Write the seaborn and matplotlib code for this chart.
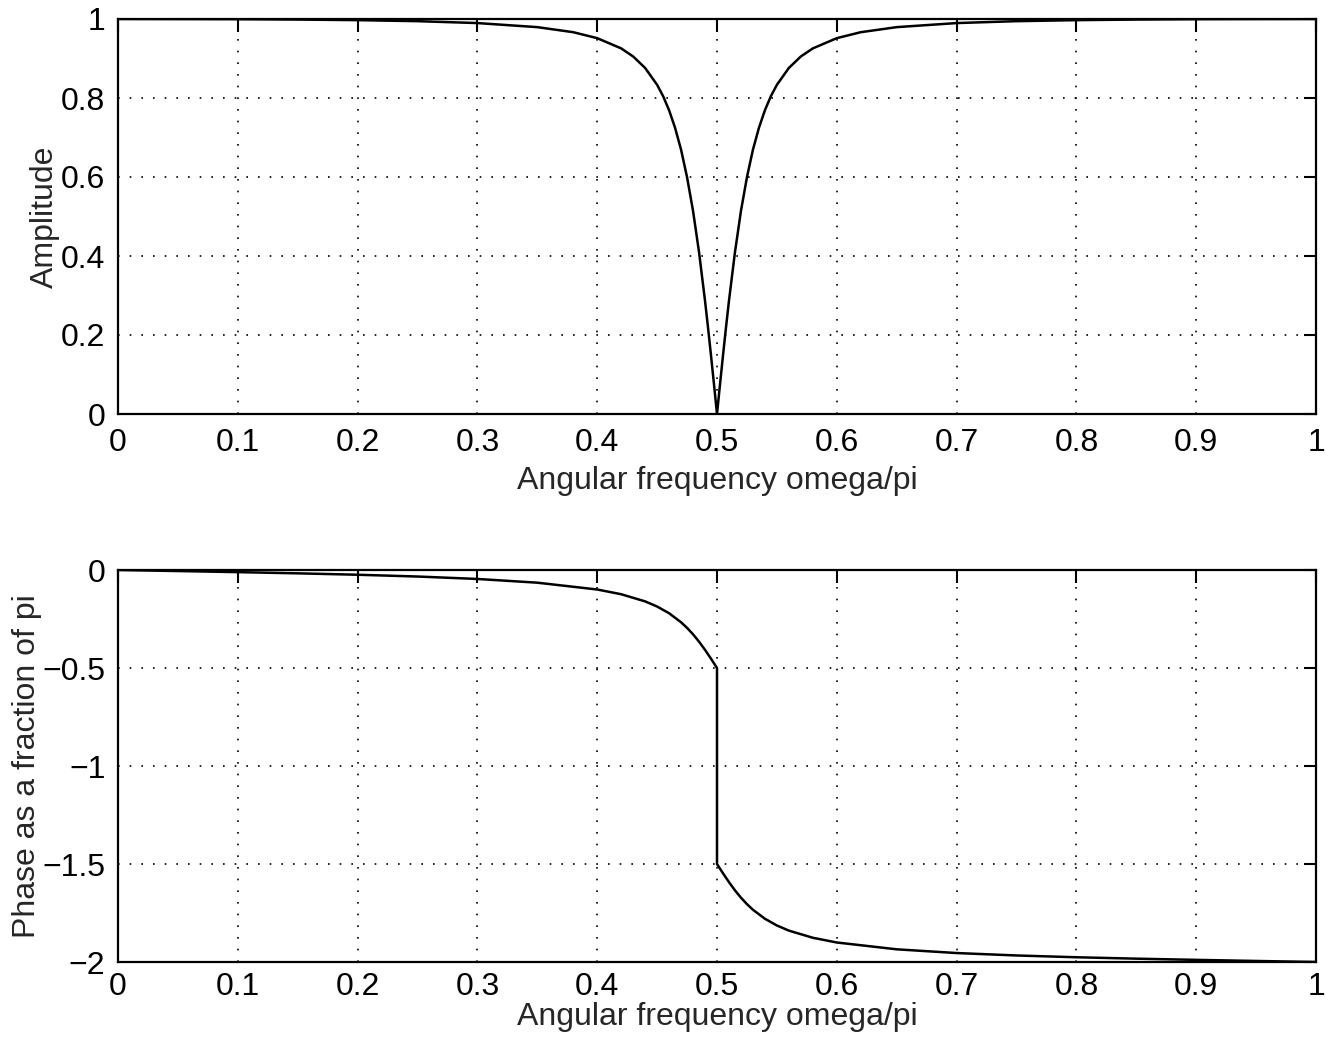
import matplotlib
matplotlib.use("Agg")
import matplotlib.pyplot as plt
import seaborn as sns
import pandas as pd
from matplotlib.ticker import FuncFormatter

# ---- data ----
amp_freq = [0.0, 0.05, 0.1, 0.15, 0.2, 0.25, 0.3, 0.35, 0.38, 0.4, 0.42, 0.43, 0.44,
            0.45, 0.455, 0.46, 0.465, 0.47, 0.475, 0.48, 0.485, 0.49, 0.4925, 0.495,
            0.4975, 0.5,
            0.5025, 0.505, 0.5075, 0.51, 0.515, 0.52, 0.525, 0.53, 0.535, 0.54, 0.545,
            0.55, 0.56, 0.57, 0.58, 0.6, 0.62, 0.65, 0.7, 0.75, 0.8, 0.85, 0.9, 0.95, 1.0]
amp_vals = [1.0, 0.9998, 0.9995, 0.9986, 0.9971, 0.9945, 0.9897, 0.9794, 0.9666, 0.9515,
            0.9256, 0.9051, 0.8761, 0.8334, 0.8048, 0.7690, 0.7245, 0.6692, 0.5995,
            0.5142, 0.4097, 0.2868, 0.219, 0.1480, 0.0747, 0.0,
            0.0747, 0.1480, 0.219, 0.2868, 0.4097, 0.5142, 0.5995, 0.6692, 0.7245,
            0.7690, 0.8048, 0.8334, 0.8761, 0.9051, 0.9256, 0.9515, 0.9666, 0.9794,
            0.9897, 0.9945, 0.9971, 0.9986, 0.9995, 0.9998, 1.0]

phase_freq = [0.0, 0.05, 0.1, 0.15, 0.2, 0.25, 0.3, 0.35, 0.4, 0.42, 0.44, 0.45, 0.46,
              0.47, 0.475, 0.48, 0.485, 0.49, 0.495, 0.5, 0.5, 0.505, 0.51, 0.515, 0.52,
              0.525, 0.53, 0.54, 0.55, 0.56, 0.58, 0.6, 0.65, 0.7, 0.75, 0.8, 0.85, 0.9,
              0.95, 1.0]
phase_vals = [0.0, -0.0053, -0.0109, -0.0170, -0.0242, -0.0333, -0.0457, -0.0647,
              -0.0995, -0.1236, -0.1601, -0.1863, -0.2206, -0.2666, -0.2953, -0.3282,
              -0.3655, -0.4074, -0.4527, -0.5, -1.5, -1.5473, -1.5926, -1.6345, -1.6718,
              -1.7047, -1.7334, -1.7794, -1.8137, -1.8399, -1.8764, -1.9005, -1.9353,
              -1.9543, -1.9667, -1.9758, -1.9830, -1.9891, -1.9947, -2.0]

x_ticks = [0, 0.1, 0.2, 0.3, 0.4, 0.5, 0.6, 0.7, 0.8, 0.9, 1]
amp_ticks = [0, 0.2, 0.4, 0.6, 0.8, 1]
phase_ticks = [-2, -1.5, -1, -0.5, 0]
x_label = "Angular frequency omega/pi"
amp_label = "Amplitude"
phase_label = "Phase as a fraction of pi"

sns.set_theme(style="white")
plt.rcParams['font.family'] = ['Liberation Sans', 'DejaVu Sans']
plt.rcParams['axes.unicode_minus'] = True

W, H = 1340, 1041
fig = plt.figure(figsize=(W / 100, H / 100), dpi=100)
ax1 = fig.add_axes([118 / W, 1 - 414 / H, 1198 / W, 395 / H])
ax2 = fig.add_axes([118 / W, 1 - 962 / H, 1198 / W, 392 / H])

df_amp = pd.DataFrame({"w": amp_freq, "a": amp_vals})
df_ph = pd.DataFrame({"w": phase_freq, "p": phase_vals})

sns.lineplot(data=df_amp, x="w", y="a", ax=ax1, color="black", linewidth=1.8,
             estimator=None, sort=False)
sns.lineplot(data=df_ph, x="w", y="p", ax=ax2, color="black", linewidth=1.8,
             estimator=None, sort=False)

def fmt(v, pos):
    s = "%g" % v
    return s.replace("-", "\u2212")

for ax, yt, yl, lim, ypad, xpad, xlpad in [
        (ax1, amp_ticks, amp_label, (0, 1), 1, 10, 6),
        (ax2, phase_ticks, phase_label, (-2, 0), 0, 7, 0)]:
    ax.set_xlim(0, 1)
    ax.set_ylim(*lim)
    ax.set_xticks(x_ticks)
    ax.set_yticks(yt)
    ax.xaxis.set_major_formatter(FuncFormatter(fmt))
    ax.yaxis.set_major_formatter(FuncFormatter(fmt))
    ax.grid(True, color="black", linestyle=(0, (1, 6)), linewidth=1.2)
    ax.tick_params(direction="in", length=9, width=1.5, top=True, right=True,
                   labelsize=23, colors="black")
    ax.tick_params(axis="x", pad=xpad)
    ax.tick_params(axis="y", pad=9)
    for sp in ax.spines.values():
        sp.set_visible(True)
        sp.set_color("black")
        sp.set_linewidth(1.6)
    ax.set_xlabel(x_label, fontsize=23, labelpad=xlpad)
    ax.set_ylabel(yl, fontsize=23, labelpad=ypad)

fig.savefig("out.png", dpi=100, facecolor="white")
